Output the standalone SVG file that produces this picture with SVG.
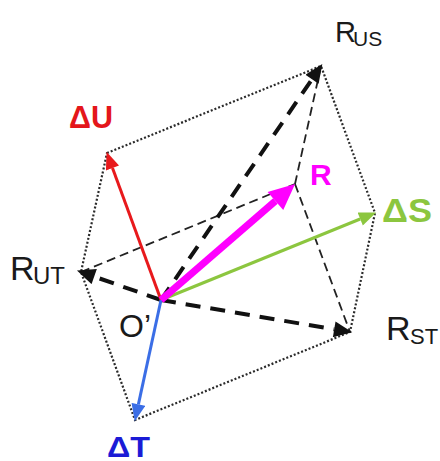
<svg xmlns="http://www.w3.org/2000/svg" width="440" height="461" viewBox="0 0 440 461">
<style>
.dot{fill:none;stroke:#2a2a2a;stroke-width:2.2;stroke-dasharray:2 2}
.thick{fill:none;stroke:#111;stroke-width:4;stroke-dasharray:15 10}
.thin{fill:none;stroke:#222;stroke-width:1.8;stroke-dasharray:9 5}
.lbl{font-family:"Liberation Sans",Arial,sans-serif;fill:#1a1a1a}
.b{font-weight:bold}
</style>
<defs>
<marker id="hk" markerUnits="userSpaceOnUse" markerWidth="20" markerHeight="16" refX="0" refY="7" orient="auto" viewBox="0 0 16 14"><path d="M0,0 L16,7 L0,14 Z" fill="#111"/></marker>
<marker id="hr" markerUnits="userSpaceOnUse" markerWidth="18" markerHeight="14" refX="0" refY="6.5" orient="auto" viewBox="0 0 16 13"><path d="M0,0 L16,6.5 L0,13 Z" fill="#e8191c"/></marker>
<marker id="hg" markerUnits="userSpaceOnUse" markerWidth="18" markerHeight="14" refX="0" refY="6.5" orient="auto" viewBox="0 0 16 13"><path d="M0,0 L16,6.5 L0,13 Z" fill="#8cc63f"/></marker>
<marker id="hb" markerUnits="userSpaceOnUse" markerWidth="18" markerHeight="14" refX="0" refY="6.5" orient="auto" viewBox="0 0 16 13"><path d="M0,0 L16,6.5 L0,13 Z" fill="#3b6ee6"/></marker>
<marker id="hm" markerUnits="userSpaceOnUse" markerWidth="28" markerHeight="24" refX="0" refY="12" orient="auto" viewBox="0 0 26 24"><path d="M0,0 L26,12 L0,24 Z" fill="#ff00ff"/></marker>
</defs>
<g id="connectors">
<polygon class="dot" points="107,153 321,66 375,213 350,332 135,420 81,272"/>
<line class="thin" x1="81" y1="272" x2="295" y2="184"/>
<line class="thin" x1="321" y1="66" x2="295" y2="184"/>
<line class="thin" x1="295" y1="184" x2="350" y2="332"/>
<line class="thick" x1="161" y1="300" x2="312" y2="79.2" marker-end="url(#hk)"/>
<line class="thick" x1="161" y1="300" x2="94.2" y2="276.6" marker-end="url(#hk)"/>
<line class="thick" x1="161" y1="300" x2="334.2" y2="329.3" marker-end="url(#hk)"/>
<line x1="161" y1="300" x2="112.5" y2="168" stroke="#e8191c" stroke-width="3" marker-end="url(#hr)"/>
<line x1="161" y1="300" x2="360.2" y2="219" stroke="#8cc63f" stroke-width="3" marker-end="url(#hg)"/>
<line x1="161" y1="300" x2="138.4" y2="404.4" stroke="#3b6ee6" stroke-width="3" marker-end="url(#hb)"/>
<line x1="161" y1="300" x2="275.4" y2="201" stroke="#ff00ff" stroke-width="7" marker-end="url(#hm)"/>
</g>
<g id="node-dU"><text class="lbl b" x="69" y="128" font-size="32" style="fill:#e4161b" textLength="44" lengthAdjust="spacingAndGlyphs">ΔU</text></g>
<g id="node-RUS"><text class="lbl" x="335" y="42" font-size="29"><tspan>R</tspan><tspan x="353" y="46" font-size="21">US</tspan></text></g>
<g id="node-R"><text class="lbl b" x="310" y="185" font-size="30" style="fill:#ff00ff">R</text></g>
<g id="node-dS"><text class="lbl b" x="382" y="222" font-size="33" style="fill:#8cc63f" textLength="50" lengthAdjust="spacingAndGlyphs">ΔS</text></g>
<g id="node-RUT"><text class="lbl" x="10" y="280" font-size="34"><tspan>R</tspan><tspan x="33" y="284" font-size="24">UT</tspan></text></g>
<g id="node-RST"><text class="lbl" x="386" y="340" font-size="34"><tspan>R</tspan><tspan x="410" y="344" font-size="22">ST</tspan></text></g>
<g id="node-O"><text class="lbl" x="119" y="337" font-size="32">O’</text></g>
<g id="node-dT"><text class="lbl b" x="107" y="457" font-size="30" style="fill:#1b1bd6" textLength="43" lengthAdjust="spacingAndGlyphs">ΔT</text></g>
</svg>
